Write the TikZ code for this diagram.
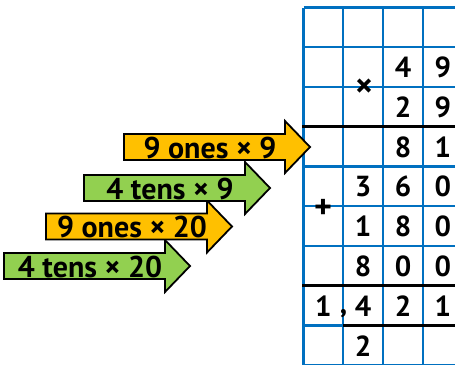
\documentclass[tikz,border=0pt]{standalone}
\usepackage{fontspec}
\setmainfont{PT Sans}
\definecolor{gridblue}{HTML}{0070C0}
\definecolor{ayellow}{HTML}{FFC000}
\definecolor{agreen}{HTML}{92D050}
\tikzset{
  gridline/.style={draw=gridblue, line width=2.2pt},
  ruleline/.style={draw=black, line width=3.2pt},
  dig/.style={inner sep=0pt, font=\fontsize{29}{29}\selectfont\bfseries},
  sym/.style={inner sep=0pt, font=\fontsize{34}{34}\selectfont\bfseries},
  arrowbody/.style={draw=black, line width=1.8pt, line join=miter},
  arrowtext/.style={inner sep=0pt, font=\fontsize{30}{30}\selectfont\bfseries}
}
\newcommand\myarrow[5]{% left, centre y, colour, text, name
  \draw[arrowbody, fill=#3] (#1,#2-13) -- (#1+161,#2-13) -- (#1+161,#2-26) -- (#1+186,#2)
    -- (#1+161,#2+26) -- (#1+161,#2+13) -- (#1,#2+13) -- cycle;
  \node[arrowtext] (#5) at (#1+86,#2+0.5) {#4};
}
\begin{document}
\begin{tikzpicture}[x=1pt,y=-1pt]
\useasboundingbox (0,0) rectangle (455,364);
\clip (0,0) rectangle (455,364);
% grid
\foreach \i in {0,...,4} \draw[gridline] (303.5+39.8*\i,7.5) -- (303.5+39.8*\i,372);
\foreach \j in {0,...,9} \draw[gridline] (303.5,7.5+39.75*\j) -- (462,7.5+39.75*\j);
\draw[ruleline] (302,126.75) -- (462,126.75);
\draw[ruleline] (302,285.75) -- (462,285.75);
\draw[ruleline] (343.3,325.5) -- (462,325.5);
% digits
\def\ca{323.4}\def\cb{363.2}\def\cc{403}\def\cd{442.8}
\node[dig] (a4) at (\cc,67.5) {4};
\node[dig] (a9) at (\cd,67.5) {9};
\node[dig] (b2) at (\cc,107.3) {2};
\node[dig] (b9) at (\cd,107.3) {9};
\node[sym] (times) at (364,88) {×};
\node[dig] (c8) at (\cc,147) {8};
\node[dig] (c1) at (\cd,147) {1};
\node[dig] (d3) at (\cb,186.8) {3};
\node[dig] (d6) at (\cc,186.8) {6};
\node[dig] (d0) at (\cd,186.8) {0};
\node[sym] (plus) at (323,209) {+};
\node[dig] (e1) at (\cb,226.5) {1};
\node[dig] (e8) at (\cc,226.5) {8};
\node[dig] (e0) at (\cd,226.5) {0};
\node[dig] (f8) at (\cb,266.3) {8};
\node[dig] (f0) at (\cc,266.3) {0};
\node[dig] (f00) at (\cd,266.3) {0};
\node[dig] (g1) at (\ca,306) {1};
\node[dig] (comma) at (343.5,314) {,};
\node[dig] (g4) at (\cb,306) {4};
\node[dig] (g2) at (\cc,306) {2};
\node[dig] (g11) at (\cd,306) {1};
\node[dig] (h2) at (\cb,345.8) {2};
% arrows
\myarrow{4}{266}{agreen}{4 tens × 20}{ar4}
\myarrow{46}{226.5}{ayellow}{9 ones × 20}{ar3}
\myarrow{84}{188}{agreen}{4 tens × 9}{ar2}
\myarrow{124}{147}{ayellow}{9 ones × 9}{ar1}
\end{tikzpicture}
\end{document}
